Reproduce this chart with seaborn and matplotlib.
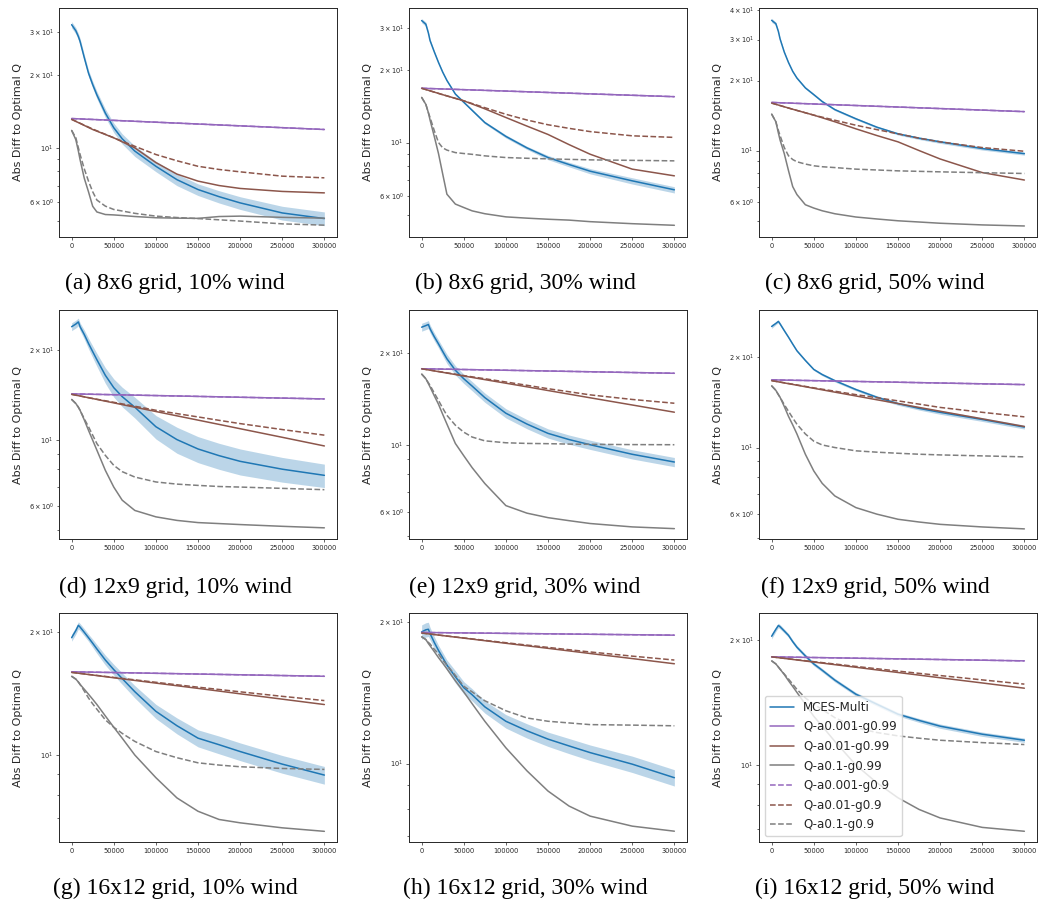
import matplotlib
matplotlib.use("Agg")
import matplotlib.pyplot as plt
import seaborn as sns
import numpy as np

STEPS = [0, 5000, 8000, 10000, 15000, 20000, 25000, 30000, 40000, 50000, 60000,
         75000, 100000, 125000, 150000, 175000, 200000, 250000, 300000]
STEPS_MID = [0, 25000, 50000, 75000, 100000, 125000, 150000, 175000, 200000, 250000, 300000]
STEPS_ENDS = [0, 300000]

CAPTIONS = [
    "(a) 8x6 grid, 10% wind", "(b) 8x6 grid, 30% wind", "(c) 8x6 grid, 50% wind",
    "(d) 12x9 grid, 10% wind", "(e) 12x9 grid, 30% wind", "(f) 12x9 grid, 50% wind",
    "(g) 16x12 grid, 10% wind", "(h) 16x12 grid, 30% wind", "(i) 16x12 grid, 50% wind",
]

# MCES-Multi mean curve, one row per panel (values on STEPS)
MCES_MULTI = [
    [32.1, 30.3, 28.7, 27.4, 23.5, 20.3, 18.2, 16.5, 13.9, 12.1, 10.9, 9.7, 8.4, 7.4, 6.74, 6.3, 5.94, 5.4, 5.12],
    [32.1, 31.0, 28.5, 26.5, 23.8, 21.5, 19.6, 18.1, 15.9, 14.7, 13.6, 12.1, 10.6, 9.5, 8.66, 8.1, 7.6, 6.93, 6.36],
    [36.3, 35.1, 32.5, 30.2, 26.5, 23.9, 21.9, 20.5, 18.6, 17.4, 16.25, 15.0, 13.7, 12.6, 11.8, 11.3, 10.9, 10.2, 9.7],
    [24.0, 24.5, 24.9, 24.0, 22.6, 21.1, 19.8, 18.6, 16.5, 15.0, 14.0, 12.9, 11.1, 10.05, 9.35, 8.88, 8.5, 8.0, 7.63],
    [24.4, 24.7, 24.9, 24.1, 22.7, 21.5, 20.3, 19.2, 17.6, 16.5, 15.6, 14.3, 12.7, 11.7, 10.9, 10.4, 10.0, 9.3, 8.77],
    [25.3, 25.9, 26.3, 25.8, 24.5, 23.3, 22.1, 21.0, 19.5, 18.2, 17.5, 16.7, 15.6, 14.7, 14.0, 13.5, 13.1, 12.4, 11.7],
    [19.4, 20.2, 20.8, 20.6, 20.0, 19.4, 18.8, 18.2, 17.1, 16.2, 15.4, 14.3, 12.8, 11.8, 11.0, 10.6, 10.2, 9.5, 8.93],
    [19.05, 19.25, 19.3, 18.9, 18.1, 17.4, 16.8, 16.2, 15.3, 14.5, 14.0, 13.2, 12.3, 11.74, 11.27, 10.9, 10.55, 9.97, 9.33],
    [20.4, 21.2, 21.65, 21.5, 21.0, 20.5, 19.8, 19.2, 18.3, 17.5, 16.9, 16.0, 14.8, 14.0, 13.25, 12.8, 12.4, 11.86, 11.47],
]

# relative half-width of the MCES-Multi shaded band (values on STEPS)
MCES_SPREAD = [
    [0.03, 0.03, 0.03, 0.03, 0.03, 0.03, 0.033, 0.035, 0.04, 0.045, 0.048, 0.05, 0.05, 0.055, 0.055, 0.058, 0.06, 0.065, 0.065],
    [0.02, 0.02, 0.015, 0.015, 0.012, 0.01, 0.01, 0.01, 0.01, 0.01, 0.011, 0.012, 0.015, 0.015, 0.02, 0.022, 0.025, 0.03, 0.03],
    [0.02, 0.015, 0.01, 0.01, 0.01, 0.01, 0.01, 0.01, 0.01, 0.01, 0.01, 0.01, 0.01, 0.01, 0.012, 0.013, 0.015, 0.015, 0.015],
    [0.03, 0.03, 0.03, 0.03, 0.035, 0.04, 0.045, 0.05, 0.06, 0.07, 0.075, 0.08, 0.09, 0.1, 0.1, 0.1, 0.1, 0.095, 0.09],
    [0.03, 0.03, 0.03, 0.03, 0.03, 0.03, 0.033, 0.035, 0.035, 0.035, 0.035, 0.035, 0.035, 0.035, 0.035, 0.035, 0.035, 0.035, 0.035],
    [0.015, 0.01, 0.01, 0.01, 0.009, 0.008, 0.008, 0.008, 0.008, 0.008, 0.009, 0.01, 0.01, 0.012, 0.012, 0.013, 0.015, 0.015, 0.015],
    [0.02, 0.02, 0.02, 0.02, 0.02, 0.02, 0.023, 0.025, 0.028, 0.03, 0.032, 0.035, 0.04, 0.045, 0.048, 0.05, 0.05, 0.05, 0.05],
    [0.035, 0.035, 0.035, 0.03, 0.028, 0.025, 0.025, 0.025, 0.03, 0.03, 0.03, 0.03, 0.033, 0.035, 0.035, 0.037, 0.038, 0.04, 0.04],
    [0.015, 0.012, 0.012, 0.012, 0.011, 0.01, 0.01, 0.01, 0.01, 0.01, 0.01, 0.01, 0.01, 0.01, 0.01, 0.011, 0.012, 0.012, 0.012],
]

# Q-learning, alpha 0.001, gamma 0.99 (values on STEPS_ENDS)
Q_A0001_G099 = [
    [13.2, 11.9], [16.8, 15.5], [16.1, 14.7],
    [14.3, 13.75], [17.8, 17.2], [16.8, 16.2],
    [16.0, 15.6], [19.0, 18.75], [18.2, 17.8],
]

# Q-learning, alpha 0.01, gamma 0.99 (values on STEPS_MID)
Q_A001_G099 = [
    [13.1, 11.9, 11.0, 10.0, 8.7, 7.8, 7.3, 7.0, 6.81, 6.62, 6.53],
    [16.8, 15.8, 14.9, 13.8, 12.7, 11.7, 10.8, 9.8, 8.94, 7.75, 7.27],
    [16.0, 15.05, 14.2, 13.3, 12.4, 11.6, 10.9, 10.0, 9.2, 8.04, 7.47],
    [14.25, 13.79, 13.34, 12.9, 12.48, 12.07, 11.68, 11.3, 10.93, 10.23, 9.57],
    [17.8, 17.32, 16.85, 16.39, 15.95, 15.52, 15.09, 14.68, 14.28, 13.52, 12.8],
    [16.7, 16.22, 15.75, 15.29, 14.85, 14.42, 14.01, 13.6, 13.21, 12.46, 11.75],
    [15.95, 15.71, 15.47, 15.24, 15.01, 14.79, 14.57, 14.35, 14.13, 13.71, 13.3],
    [18.95, 18.71, 18.48, 18.25, 18.02, 17.8, 17.58, 17.36, 17.14, 16.72, 16.3],
    [18.2, 17.94, 17.68, 17.43, 17.18, 16.93, 16.69, 16.45, 16.21, 15.75, 15.3],
]

# Q-learning, alpha 0.1, gamma 0.99 (values on STEPS)
Q_A01_G099 = [
    [11.8, 10.8, 9.7, 8.95, 7.5, 6.6, 5.75, 5.45, 5.32, 5.3, 5.27, 5.22, 5.16, 5.14, 5.13, 5.22, 5.24, 5.18, 5.14],
    [15.4, 14.4, 13.3, 12.4, 10.6, 9.0, 7.4, 6.1, 5.55, 5.37, 5.2, 5.06, 4.91, 4.85, 4.8, 4.76, 4.69, 4.6, 4.53],
    [14.35, 13.3, 11.9, 11.1, 9.7, 8.2, 7.0, 6.47, 5.85, 5.66, 5.51, 5.35, 5.18, 5.08, 4.99, 4.93, 4.87, 4.79, 4.74],
    [13.7, 13.27, 12.9, 12.6, 11.7, 10.8, 10.0, 9.26, 7.93, 6.97, 6.3, 5.82, 5.54, 5.39, 5.3, 5.26, 5.22, 5.15, 5.09],
    [17.1, 16.5, 15.9, 15.5, 14.5, 13.6, 12.6, 11.7, 10.1, 9.2, 8.4, 7.45, 6.3, 5.95, 5.75, 5.62, 5.5, 5.36, 5.29],
    [16.05, 15.5, 15.0, 14.7, 13.7, 12.7, 11.9, 11.1, 9.5, 8.36, 7.6, 6.9, 6.31, 6.0, 5.77, 5.65, 5.55, 5.44, 5.36],
    [15.6, 15.35, 15.1, 14.9, 14.5, 14.1, 13.7, 13.3, 12.47, 11.7, 11.0, 10.0, 8.8, 7.85, 7.28, 6.95, 6.82, 6.63, 6.5],
    [18.6, 18.35, 18.0, 17.8, 17.3, 16.8, 16.35, 15.9, 15.0, 14.2, 13.4, 12.3, 10.8, 9.65, 8.74, 8.12, 7.73, 7.36, 7.18],
    [17.8, 17.5, 17.2, 17.0, 16.5, 15.95, 15.45, 14.95, 14.0, 13.1, 12.4, 11.4, 10.0, 9.06, 8.34, 7.82, 7.46, 7.08, 6.93],
]

# Q-learning, alpha 0.001, gamma 0.9 (values on STEPS_ENDS)
Q_A0001_G09 = [
    [13.2, 11.9], [16.8, 15.5], [16.1, 14.7],
    [14.3, 13.75], [17.8, 17.2], [16.8, 16.2],
    [16.0, 15.6], [19.0, 18.75], [18.2, 17.8],
]

# Q-learning, alpha 0.01, gamma 0.9 (values on STEPS_MID)
Q_A001_G09 = [
    [13.1, 11.95, 11.0, 10.15, 9.39, 8.85, 8.4, 8.15, 7.97, 7.65, 7.53],
    [16.8, 15.8, 14.9, 13.95, 13.1, 12.4, 11.85, 11.45, 11.1, 10.66, 10.5],
    [16.0, 15.05, 14.2, 13.5, 12.85, 12.3, 11.8, 11.3, 10.9, 10.3, 9.93],
    [14.25, 13.8, 13.4, 13.0, 12.6, 12.28, 11.97, 11.66, 11.37, 10.86, 10.4],
    [17.8, 17.35, 16.9, 16.5, 16.1, 15.7, 15.3, 14.95, 14.6, 14.1, 13.7],
    [16.7, 16.25, 15.8, 15.4, 15.0, 14.65, 14.3, 13.95, 13.6, 13.1, 12.65],
    [15.95, 15.72, 15.5, 15.29, 15.08, 14.87, 14.67, 14.48, 14.29, 13.93, 13.6],
    [18.95, 18.72, 18.5, 18.28, 18.07, 17.86, 17.66, 17.46, 17.27, 16.92, 16.6],
    [18.2, 17.96, 17.72, 17.49, 17.26, 17.04, 16.82, 16.61, 16.41, 16.02, 15.65],
]

# Q-learning, alpha 0.1, gamma 0.9 (values on STEPS)
Q_A01_G09 = [
    [11.8, 11.0, 10.0, 9.4, 8.2, 7.3, 6.6, 6.1, 5.76, 5.58, 5.5, 5.38, 5.24, 5.17, 5.12, 5.06, 5.0, 4.87, 4.81],
    [15.4, 14.4, 13.3, 12.7, 11.2, 10.0, 9.5, 9.3, 9.08, 9.0, 8.93, 8.8, 8.66, 8.6, 8.55, 8.51, 8.47, 8.43, 8.39],
    [14.35, 13.3, 12.2, 11.6, 10.3, 9.5, 9.15, 8.95, 8.75, 8.6, 8.52, 8.45, 8.32, 8.25, 8.18, 8.14, 8.1, 8.03, 7.97],
    [13.7, 13.27, 12.9, 12.6, 11.8, 11.1, 10.4, 9.74, 8.9, 8.24, 7.85, 7.53, 7.25, 7.13, 7.06, 7.0, 6.97, 6.9, 6.83],
    [17.1, 16.5, 16.0, 15.7, 14.8, 14.0, 13.2, 12.5, 11.6, 11.0, 10.6, 10.3, 10.15, 10.1, 10.08, 10.05, 10.03, 10.01, 10.0],
    [16.05, 15.5, 15.0, 14.7, 13.9, 13.2, 12.55, 11.96, 11.1, 10.5, 10.2, 10.0, 9.75, 9.65, 9.57, 9.5, 9.45, 9.38, 9.31],
    [15.6, 15.35, 15.1, 14.9, 14.35, 13.8, 13.35, 12.95, 12.2, 11.7, 11.3, 10.8, 10.2, 9.85, 9.57, 9.45, 9.36, 9.27, 9.22],
    [18.6, 18.35, 18.1, 17.96, 17.5, 17.1, 16.6, 16.2, 15.4, 14.6, 14.2, 13.6, 12.95, 12.5, 12.3, 12.2, 12.1, 12.07, 12.03],
    [17.8, 17.5, 17.2, 17.0, 16.55, 16.1, 15.65, 15.2, 14.5, 14.0, 13.6, 13.0, 12.3, 11.97, 11.75, 11.6, 11.47, 11.32, 11.2],
]

Y_LIMITS = [(4.3, 37.6), (4.05, 36.2), (4.25, 41.0),
            (4.67, 27.3), (4.89, 27.8), (4.96, 28.7),
            (6.12, 22.3), (6.81, 20.9), (6.53, 23.2)]

BLUE, PURPLE, BROWN, GRAY = "#1f77b4", "#9467bd", "#8c564b", "#7f7f7f"

# figure layout in pixels
W, H = 1038, 905
AX_LEFT = [59, 409, 759]
AX_TOP = [8, 310, 613]
AX_W, AX_H = 278, 229
CAP_X = [175, 525, 875]
CAP_Y = [283, 587, 888]

sns.set_style("ticks")
fig = plt.figure(figsize=(W / 100, H / 100), dpi=100)

for idx in range(9):
    row, col = divmod(idx, 3)
    ax = fig.add_axes([AX_LEFT[col] / W, 1 - (AX_TOP[row] + AX_H) / H, AX_W / W, AX_H / H])
    ax.set_yscale("log")

    mces = np.array(MCES_MULTI[idx])
    spread = np.array(MCES_SPREAD[idx])
    ax.fill_between(STEPS, mces * (1 - spread), mces * (1 + spread),
                    color=BLUE, alpha=0.3, lw=0)

    lw = 1.1
    sns.lineplot(x=STEPS, y=mces, ax=ax, color=BLUE, lw=lw, label="MCES-Multi", legend=False)
    sns.lineplot(x=STEPS_ENDS, y=Q_A0001_G099[idx], ax=ax, color=PURPLE, lw=lw,
                 label="Q-a0.001-g0.99", legend=False)
    sns.lineplot(x=STEPS_MID, y=Q_A001_G099[idx], ax=ax, color=BROWN, lw=lw,
                 label="Q-a0.01-g0.99", legend=False)
    sns.lineplot(x=STEPS, y=Q_A01_G099[idx], ax=ax, color=GRAY, lw=lw,
                 label="Q-a0.1-g0.99", legend=False)
    sns.lineplot(x=STEPS_ENDS, y=Q_A0001_G09[idx], ax=ax, color=PURPLE, lw=lw, ls="--",
                 label="Q-a0.001-g0.9", legend=False)
    sns.lineplot(x=STEPS_MID, y=Q_A001_G09[idx], ax=ax, color=BROWN, lw=lw, ls="--",
                 label="Q-a0.01-g0.9", legend=False)
    sns.lineplot(x=STEPS, y=Q_A01_G09[idx], ax=ax, color=GRAY, lw=lw, ls="--",
                 label="Q-a0.1-g0.9", legend=False)

    ax.set_xlim(-15000, 315000)
    ax.set_ylim(*Y_LIMITS[idx])
    ax.set_xticks(range(0, 300001, 50000))
    ax.set_ylabel("Abs Diff to Optimal Q", fontsize=8, labelpad=4)
    ax.set_xlabel("")
    ax.tick_params(which="both", labelsize=4.8, width=0.5, pad=2)
    ax.tick_params(which="major", length=2.5)
    ax.tick_params(which="minor", length=1.5)
    for spine in ax.spines.values():
        spine.set_linewidth(0.7)

    if idx == 8:
        ax.legend(loc="lower left", fontsize=8.6, labelspacing=0.55, frameon=True)

    fig.text(CAP_X[col] / W, 1 - CAP_Y[row] / H, CAPTIONS[idx], ha="center", va="center",
             family="Liberation Serif", fontsize=17, color="black")

plt.savefig("out.png", dpi=100)
plt.close()
